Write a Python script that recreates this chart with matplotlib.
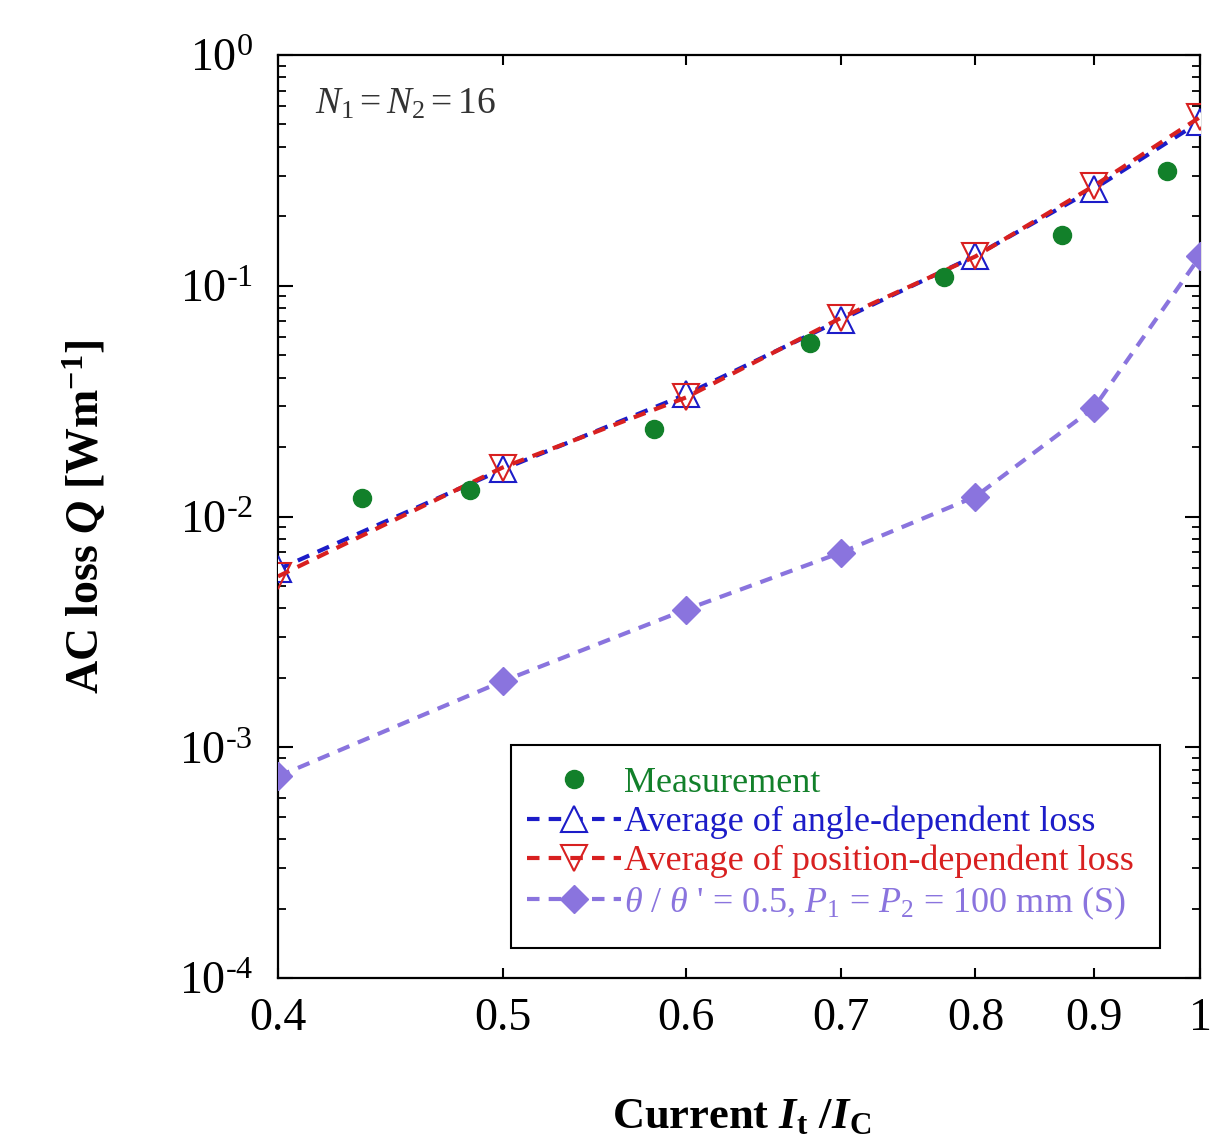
import numpy as np
import matplotlib
matplotlib.use("Agg")
import matplotlib.pyplot as plt
from matplotlib.patches import Rectangle

plt.rcParams['font.family'] = ['Liberation Serif', 'DejaVu Serif']
plt.rcParams['mathtext.fontset'] = 'custom'
plt.rcParams['mathtext.rm'] = 'Liberation Serif'
plt.rcParams['mathtext.it'] = 'Liberation Serif:italic'
plt.rcParams['mathtext.bf'] = 'Liberation Serif:bold'
plt.rcParams['mathtext.bfit'] = 'Liberation Serif:italic:bold'

# measured points
meas_x = [0.435, 0.484, 0.581, 0.679, 0.775, 0.872, 0.968]
meas_q = [0.0120, 0.0130, 0.0240, 0.0566, 0.109, 0.166, 0.315]

# simulated current ratios
ratio = [0.4, 0.5, 0.6, 0.7, 0.8, 0.9, 1.0]
angle_q = [0.0059, 0.0160, 0.0338, 0.0713, 0.135, 0.263, 0.514]
position_q = [0.0055, 0.0163, 0.0328, 0.0726, 0.134, 0.271, 0.538]
single_q = [0.000748, 0.00193, 0.00395, 0.00698, 0.0122, 0.0296, 0.134]

x_ticks = [0.4, 0.5, 0.6, 0.7, 0.8, 0.9, 1.0]
x_tick_labels = ['0.4', '0.5', '0.6', '0.7', '0.8', '0.9', '1']
y_ticks = [1e-4, 1e-3, 1e-2, 1e-1, 1e0]
y_tick_labels = [r'$10^{\text{-}4}$', r'$10^{\text{-}3}$', r'$10^{\text{-}2}$',
                 r'$10^{\text{-}1}$', r'$10^{0}$']

green = '#12802a'
blue = '#1c1cc8'
red = '#d82020'
purple = '#8a74de'

fig = plt.figure(figsize=(12.22, 11.39), dpi=100)
ax = fig.add_axes([278/1222, 1-978/1139, 922/1222, 923/1139])

ax.plot(meas_x, meas_q, 'o', color=green, markersize=13, label='Measurement', zorder=4)
ax.plot(ratio, angle_q, '--', color=blue, lw=3, dashes=(3, 2.2),
        marker='^', markersize=19, markerfacecolor='white', markeredgecolor=blue,
        markeredgewidth=1.5, label='Average of angle-dependent loss', zorder=3)
ax.plot(ratio, position_q, '--', color=red, lw=3, dashes=(3, 2.2),
        marker='v', markersize=19, markerfacecolor='none', markeredgecolor=red,
        markeredgewidth=1.5, label='Average of position-dependent loss', zorder=3)
ax.plot(ratio, single_q, '--', color=purple, lw=3, dashes=(3, 2.2),
        marker='D', markersize=14, markerfacecolor=purple, markeredgecolor=purple,
        label=r"$\theta$ / $\theta$ ' = 0.5, $P_1$ = $P_2$ = 100 mm (S)", zorder=3)

ax.set_xscale('log')
ax.set_yscale('log')
ax.set_xlim(0.4, 1.0)
ax.set_ylim(1e-4, 1e0)
ax.set_xticks(x_ticks)
ax.set_xticklabels(x_tick_labels)
ax.xaxis.set_minor_locator(matplotlib.ticker.NullLocator())
ax.set_yticks(y_ticks)
ax.set_yticklabels(y_tick_labels)

ax.tick_params(axis='x', which='major', direction='in', top=True, bottom=True,
               length=7, width=1.5, labelsize=33, pad=14)
ax.tick_params(axis='y', which='major', direction='in', left=True, right=True,
               length=11, width=1.5, labelsize=33, pad=18)
ax.tick_params(axis='y', which='minor', direction='in', left=True, right=True,
               length=5.5, width=1.3)
for s in ax.spines.values():
    s.set_linewidth(1.6)

ax.text(0.04, 0.947, r'$N_1 = N_2 = 16$', transform=ax.transAxes,
        fontsize=27, va='center', ha='left', color='#333333')

ax.add_patch(Rectangle((0.253, 0.0325), 0.704, 0.2195, transform=ax.transAxes,
                       facecolor='white', edgecolor='black', lw=1.5, zorder=5))
leg = ax.legend(loc='upper left', bbox_to_anchor=(0.270, 0.229), fontsize=26,
                frameon=False, handlelength=2.6, handletextpad=0.1, labelspacing=0.16,
                borderpad=0, borderaxespad=0, numpoints=1)
leg.set_zorder(6)
for txt, c in zip(leg.get_texts(), [green, blue, red, purple]):
    txt.set_color(c)

fig.text(85/1222, 1-517/1139, r'AC loss $\mathbfit{Q}$ [Wm$^{\mathbf{-1}}$]',
         rotation=90, ha='center', va='center', fontsize=33, fontweight='bold')
fig.text(742/1222, 1-1128/1139, r'Current $\mathbfit{I}_{\mathbf{t}}$ /$\mathbfit{I}_{\mathbf{C}}$',
         ha='center', va='baseline', fontsize=32, fontweight='bold')

fig.savefig('out.png', dpi=100)
